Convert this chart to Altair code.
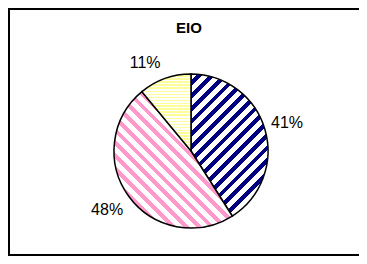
import math
import altair as alt
import pandas as pd

# ---- data ----
categories = ["A", "B", "C"]
values = [41, 48, 11]
labels = ["41%", "48%", "11%"]
title_text = ["EIO"]

stripe_colors = ["#000080", "#FF99CC", "#FFFF99"]
stripe_kind = ["slash", "backslash", "horizontal"]
stripe_period = [9.0, 9.0, 3.0]
stripe_frac = [0.45, 0.45, 0.5]

R = 77
CX, CY = 183, 143
W, H = 351, 248

# cumulative angles (degrees, clockwise from top) for gradient bounding boxes
total = sum(values)
starts, ends = [], []
acc = 0.0
for v in values:
    starts.append(acc / total * 360.0)
    acc += v
    ends.append(acc / total * 360.0)


def slice_bbox(a0, a1):
    pts = [(0.0, 0.0)]
    for a in (a0, a1):
        pts.append((math.sin(math.radians(a)), -math.cos(math.radians(a))))
    for q in (0, 90, 180, 270, 360):
        if a0 < q < a1:
            pts.append((math.sin(math.radians(q)), -math.cos(math.radians(q))))
    xs = [p[0] for p in pts]
    ys = [p[1] for p in pts]
    return (max(xs) - min(xs)) * R, (max(ys) - min(ys)) * R


def stops(color, n, frac):
    out = []
    k = 0
    while k < n:
        a = k / n
        b = min((k + 1 - frac) / n, 1.0)
        c = min((k + 1) / n, 1.0)
        out.append({"offset": round(a, 5), "color": "#FFFFFF"})
        out.append({"offset": round(b, 5), "color": "#FFFFFF"})
        out.append({"offset": round(b, 5), "color": color})
        out.append({"offset": round(c, 5), "color": color})
        k += 1
    return out


def gradient(i):
    w, h = slice_bbox(starts[i], ends[i])
    kind = stripe_kind[i]
    if kind == "horizontal":
        n = h / stripe_period[i]
        return dict(gradient="linear", x1=0, y1=0, x2=0, y2=1,
                    stops=stops(stripe_colors[i], n, stripe_frac[i]))
    c = (w + h) / (w * w + h * h)
    n = (w + h) / math.sqrt(2) / stripe_period[i]
    if kind == "slash":
        return dict(gradient="linear", x1=0, y1=0, x2=c * w, y2=c * h,
                    stops=stops(stripe_colors[i], n, stripe_frac[i]))
    return dict(gradient="linear", x1=0, y1=1, x2=c * w, y2=1 - c * h,
                stops=stops(stripe_colors[i], n, stripe_frac[i]))


df = pd.DataFrame({"cat": categories, "value": values, "label": labels})

base = alt.Chart(df).transform_window(
    cum="sum(value)", sort=[alt.SortField("cat")]
).transform_calculate(
    t0="datum.cum - datum.value",
    t1="datum.cum",
    tm="datum.cum - datum.value / 2",
)

theta_scale = alt.Scale(domain=[0, total], range=[0, 2 * math.pi])

arcs = []
for i, cat in enumerate(categories):
    arcs.append(
        base.transform_filter(alt.datum.cat == cat)
        .mark_arc(radius=R, stroke="black", strokeWidth=1.5,
                  fill=alt.Gradient(**gradient(i)))
        .encode(
            theta=alt.Theta("t0:Q", scale=theta_scale),
            theta2="t1:Q",
            x=alt.value(CX),
            y=alt.value(CY),
        )
    )

label_font = "Liberation Sans"
text_big = base.transform_filter(alt.datum.cat == "A").mark_text(
    radius=100, font=label_font, fontSize=16, color="black"
).encode(
    theta=alt.Theta("tm:Q", scale=theta_scale),
    text="label:N",
    x=alt.value(CX),
    y=alt.value(CY),
)
text_mid = base.transform_filter(alt.datum.cat == "B").mark_text(
    radius=100, dx=-3, font=label_font, fontSize=16, color="black"
).encode(
    theta=alt.Theta("tm:Q", scale=theta_scale),
    text="label:N",
    x=alt.value(CX),
    y=alt.value(CY),
)
text_small = base.transform_filter(alt.datum.cat == "C").mark_text(
    radius=100, dx=-12, dy=6, font=label_font, fontSize=16, color="black"
).encode(
    theta=alt.Theta("tm:Q", scale=theta_scale),
    text="label:N",
    x=alt.value(CX),
    y=alt.value(CY),
)

title = alt.Chart(pd.DataFrame({"t": title_text})).mark_text(
    font=label_font, fontSize=15, fontWeight="bold", color="black"
).encode(text="t:N", x=alt.value(181), y=alt.value(20))

frame_src = alt.Chart(pd.DataFrame({"t": title_text}))
top_line = frame_src.mark_rule(color="black", strokeWidth=2).encode(
    x=alt.value(0), x2=alt.value(W + 4), y=alt.value(1))
left_line = frame_src.mark_rule(color="black", strokeWidth=2).encode(
    x=alt.value(1), y=alt.value(0), y2=alt.value(H))
bottom_line = frame_src.mark_rule(color="black", strokeWidth=2).encode(
    x=alt.value(0), x2=alt.value(W + 4), y=alt.value(H - 1))
right_mask = frame_src.mark_rule(color="white", strokeWidth=3).encode(
    x=alt.value(W - 1), y=alt.value(3), y2=alt.value(H - 3))

chart = alt.layer(top_line, left_line, bottom_line, *arcs,
                  text_big, text_mid, text_small, title, right_mask).properties(
    width=W, height=H, autosize="none", padding=0
).configure(background="white").configure_view(
    stroke="transparent", strokeWidth=0
)

chart.save("out.html", embed_options={"renderer": "svg", "actions": False})
